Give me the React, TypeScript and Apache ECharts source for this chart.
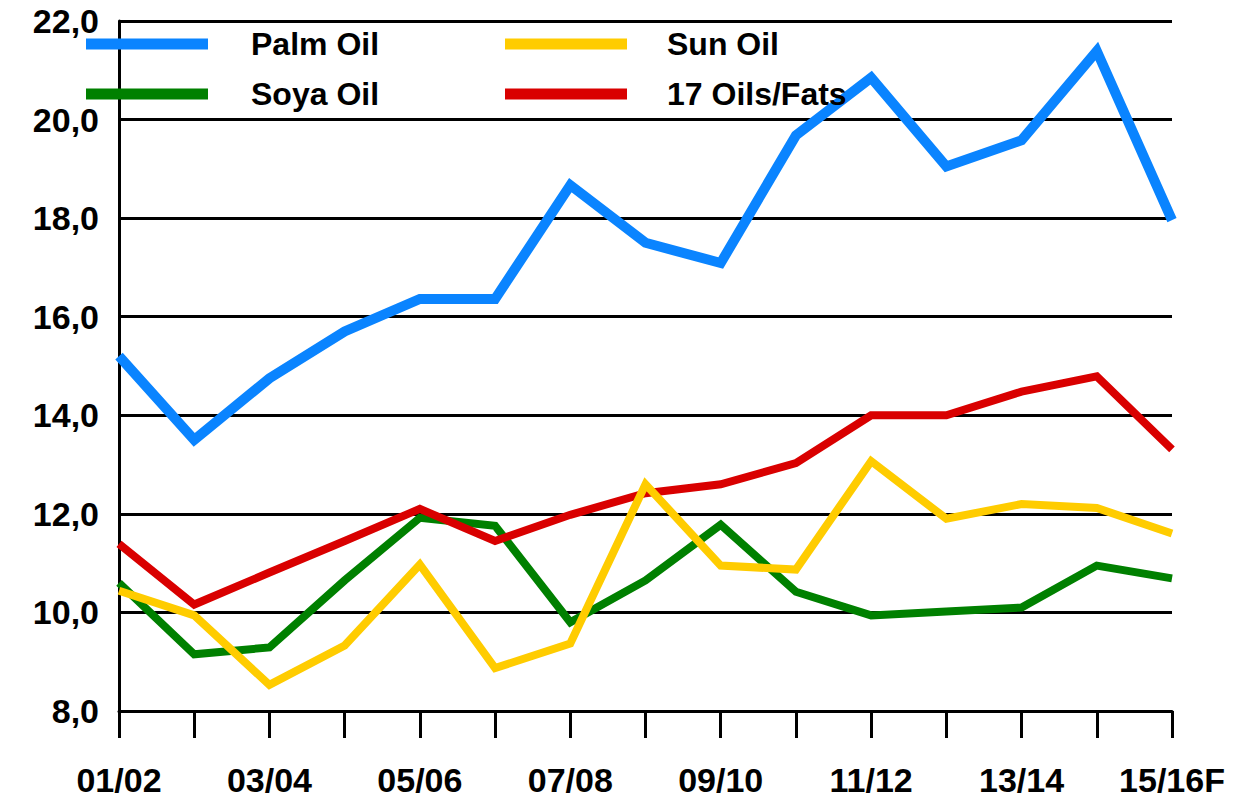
import React, { useEffect, useRef } from "react";
import * as echarts from "echarts";

const categories = ["01/02","02/03","03/04","04/05","05/06","06/07","07/08","08/09","09/10","10/11","11/12","12/13","13/14","14/15","15/16F"];
const palmOil = [15.2, 13.5, 14.75, 15.7, 16.36, 16.36, 18.67, 17.5, 17.09, 19.68, 20.85, 19.05, 19.58, 21.39, 17.96];
const sunOil = [10.44, 9.94, 8.53, 9.33, 10.97, 8.87, 9.37, 12.6, 10.95, 10.87, 13.07, 11.9, 12.2, 12.12, 11.6];
const soyaOil = [10.6, 9.15, 9.29, 10.65, 11.92, 11.76, 9.8, 10.65, 11.78, 10.42, 9.94, 10.02, 10.1, 10.95, 10.69];
const oilsFats = [11.39, 10.16, 10.81, 11.45, 12.1, 11.45, 11.98, 12.42, 12.6, 13.03, 14.0, 14.0, 14.48, 14.79, 13.31];

const FONT = "'Liberation Sans', Arial, sans-serif";

export default function App() {
  const ref = useRef<HTMLDivElement>(null);
  useEffect(() => {
    if (!ref.current) return;
    const chart = echarts.init(ref.current, null, { renderer: "svg" });
    const legendBase = (name: string, left: number, top: number, pad: number) => ({
      data: [name],
      left,
      top,
      padding: 0,
      icon: "rect",
      itemWidth: 122,
      itemHeight: 11,
      selectedMode: false,
      textStyle: {
        fontFamily: FONT,
        fontWeight: "bold",
        fontSize: 32,
        lineHeight: 32,
        color: "#000",
        padding: [0, 0, 0, pad],
      },
    });
    chart.setOption({
      animation: false,
      backgroundColor: "#fff",
      grid: { left: 119, right: 87, top: 18, bottom: 88, containLabel: false },
      legend: [
        legendBase("Palm Oil", 86, 28, 38),
        legendBase("Soya Oil", 86, 78, 38),
        legendBase("Sun Oil", 505, 28, 35),
        legendBase("17 Oils/Fats", 505, 78, 35),
      ],
      xAxis: {
        type: "category",
        data: categories,
        boundaryGap: false,
        axisLine: { show: true, lineStyle: { color: "#000", width: 3 } },
        axisTick: { show: true, interval: 0, length: 27, lineStyle: { color: "#000", width: 3 } },
        axisLabel: {
          interval: 1,
          margin: 52,
          fontFamily: FONT,
          fontWeight: "bold",
          fontSize: 34,
          lineHeight: 34,
          color: "#000",
        },
        splitLine: { show: false },
      },
      yAxis: {
        type: "value",
        min: 8,
        max: 22,
        interval: 2,
        axisLine: { show: true, lineStyle: { color: "#000", width: 3 } },
        axisTick: { show: false },
        axisLabel: {
          margin: 20,
          fontFamily: FONT,
          fontWeight: "bold",
          fontSize: 34,
          lineHeight: 34,
          padding: [8, 0, 0, 0],
          color: "#000",
          formatter: (v: number) => v.toFixed(1).replace(".", ","),
        },
        splitLine: { show: true, lineStyle: { color: "#000", width: 3 } },
      },
      series: [
        { name: "Palm Oil", type: "line", data: palmOil, symbol: "none", color: "#0A84FF", lineStyle: { width: 10, color: "#0A84FF", join: "miter" } },
        { name: "Soya Oil", type: "line", data: soyaOil, symbol: "none", color: "#008000", lineStyle: { width: 8, color: "#008000", join: "miter" } },
        { name: "17 Oils/Fats", type: "line", data: oilsFats, symbol: "none", color: "#D90000", lineStyle: { width: 8, color: "#D90000", join: "miter" } },
        { name: "Sun Oil", type: "line", data: sunOil, symbol: "none", color: "#FFCC00", lineStyle: { width: 8, color: "#FFCC00", join: "miter" } },
      ],
    });
    return () => chart.dispose();
  }, []);
  return <div ref={ref} style={{ width: 1259, height: 799, position: "absolute", left: 0, top: 0 }} />;
}
